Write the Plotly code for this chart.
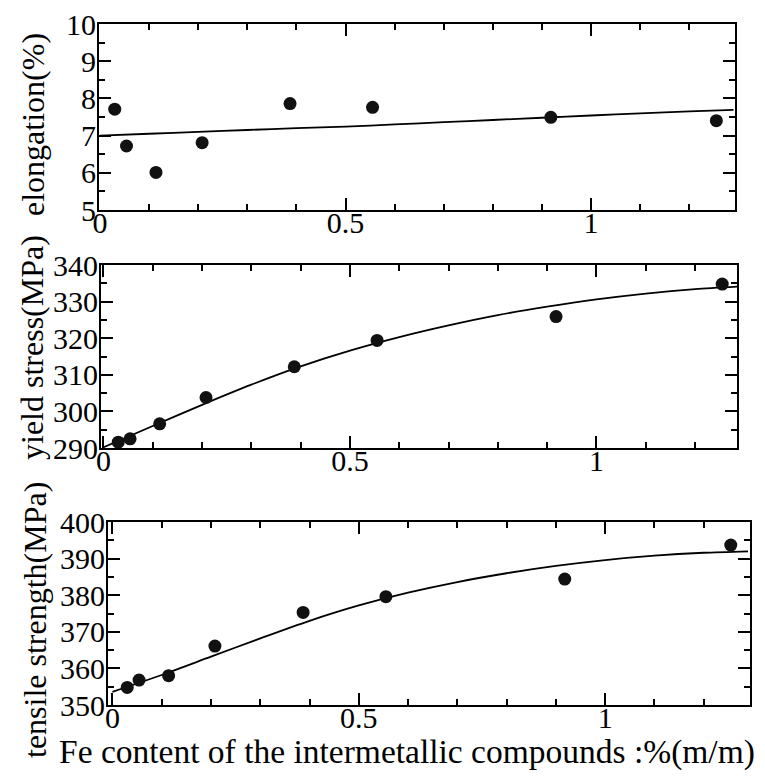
import plotly.graph_objects as go

# ---- data ----
fe = [0.03, 0.054, 0.114, 0.208, 0.387, 0.555, 0.918, 1.255]
elongation = [7.71, 6.72, 6.01, 6.81, 7.86, 7.76, 7.49, 7.40]
yield_stress = [291.6, 292.5, 296.6, 303.8, 312.2, 319.4, 325.9, 334.8]
tensile = [354.8, 356.8, 358.0, 366.1, 375.3, 379.6, 384.4, 393.7]

fit_x = [0.0, 0.1, 0.2, 0.3, 0.4, 0.5, 0.6, 0.7, 0.8, 0.9, 1.0, 1.1, 1.2, 1.29]
elong_fit = [7.0, 7.05, 7.10, 7.15, 7.20, 7.24, 7.30, 7.36, 7.42, 7.48, 7.54, 7.60, 7.65, 7.69]
yield_fit = [290.2, 296.0, 301.8, 307.3, 312.3, 316.6, 320.3, 323.5, 326.3, 328.6, 330.6, 332.2, 333.4, 334.1]
tensile_fit = [353.6, 358.2, 363.2, 368.2, 373.0, 377.2, 380.7, 383.6, 386.0, 388.0, 389.6, 390.8, 391.6, 392.0]

x_ticks = [0, 0.5, 1]
x_ticktext = ["0", "0.5", "1"]

y_titles = ["elongation(%)", "yield stress(MPa)", "tensile strength(MPa)"]
x_title = "Fe content of the intermetallic compounds :%(m/m)"

W, H = 765, 780
FONT = "Liberation Serif"

# panel geometry (pixels): left, right, top, bottom
panels = [
    (99, 735, 24, 210),
    (101, 737, 265, 448),
    (108, 750, 522, 705),
]
x_ranges = [[-0.002, 1.293], [-0.005, 1.285], [-0.009, 1.294]]
y_ranges = [[5, 10], [290, 340], [350, 400]]
y_dticks = [1, 10, 10]
y_minor = [0.5, 5, 5]
title_pos = [(33, 125), (32, 348), (35, 620)]

series = [elongation, yield_stress, tensile]
fits = [elong_fit, yield_fit, tensile_fit]

fig = go.Figure()
layout = {}
annotations = []
for i in range(3):
    n = "" if i == 0 else str(i + 1)
    xa, ya = "x" + n, "y" + n
    fig.add_trace(go.Scatter(
        x=fit_x, y=fits[i], mode="lines", line=dict(color="black", width=1.8, shape="spline", smoothing=0.8),
        xaxis=xa, yaxis=ya, showlegend=False, hoverinfo="skip"))
    fig.add_trace(go.Scatter(
        x=fe, y=series[i], mode="markers", marker=dict(color="#111", size=13, line=dict(width=0)),
        xaxis=xa, yaxis=ya, showlegend=False))
    l, r, t, b = panels[i]
    common = dict(showline=True, linecolor="black", linewidth=2, mirror="ticks",
                  ticks="inside", tickcolor="black", tickwidth=2, showgrid=False, zeroline=False,
                  automargin=False,
                  tickfont=dict(family=FONT, size=30, color="black"))
    layout["xaxis" + n] = dict(
        domain=[l / W, r / W], anchor=ya, range=x_ranges[i],
        tickmode="array", tickvals=x_ticks, ticktext=x_ticktext, ticklen=12,
        minor=dict(dtick=0.1, tick0=0, ticklen=6, tickwidth=2, tickcolor="black", ticks="inside"),
        ticklabelstandoff=-15,
        **common)
    layout["yaxis" + n] = dict(
        domain=[1 - b / H, 1 - t / H], anchor=xa, range=y_ranges[i],
        tickmode="linear", tick0=y_ranges[i][0], dtick=y_dticks[i], ticklen=12,
        minor=dict(dtick=y_minor[i], tick0=y_ranges[i][0], ticklen=6, tickwidth=2, tickcolor="black", ticks="inside"),
        ticklabelstandoff=-5,
        **common)
    tx, ty = title_pos[i]
    annotations.append(dict(
        text=y_titles[i], xref="paper", yref="paper", x=tx / W, y=1 - ty / H,
        textangle=-90, showarrow=False, xanchor="center", yanchor="middle",
        font=dict(family=FONT, size=32, color="black")))

annotations.append(dict(
    text=x_title, xref="paper", yref="paper", x=407 / W, y=1 - 752 / H,
    showarrow=False, xanchor="center", yanchor="middle",
    font=dict(family=FONT, size=33.5, color="black")))

fig.update_layout(
    template="none",
    width=W, height=H, margin=dict(l=0, r=0, t=0, b=0, pad=0),
    paper_bgcolor="white", plot_bgcolor="white",
    font=dict(family=FONT, color="black"),
    annotations=annotations, **layout)

fig.write_html("out.html", config={"displayModeBar": False},
               post_script="document.body.style.margin='0px';")
